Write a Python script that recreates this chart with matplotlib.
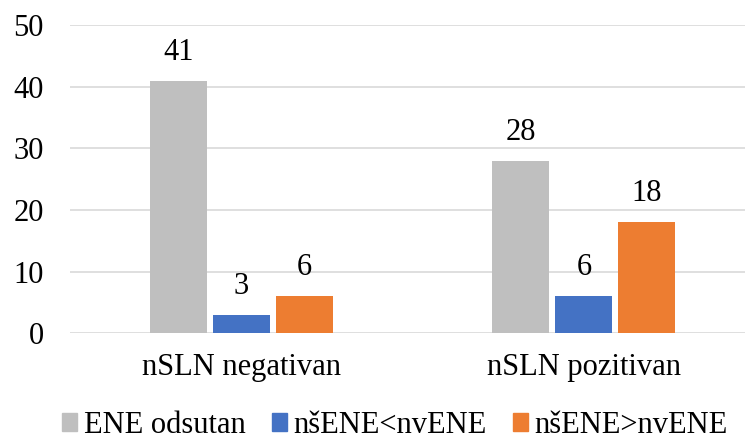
import matplotlib
matplotlib.use("Agg")
import matplotlib.pyplot as plt
from matplotlib.patches import Patch
import numpy as np

plt.rcParams["font.family"] = ["Liberation Serif", "DejaVu Serif"]

categories = ["nSLN negativan", "nSLN pozitivan"]
series = ["ENE odsutan", "nšENE<nvENE", "nšENE>nvENE"]
ene_odsutan = [41, 28]
ens_manji = [3, 6]
ens_veci = [6, 18]
colors = ["#bfbfbf", "#4472c4", "#ed7d31"]

fig = plt.figure(figsize=(7.49, 4.36), dpi=100)
ax = fig.add_axes([0.0935, 0.236, 0.901, 0.706])

x = np.arange(len(categories))
width = 0.166
step = 0.184
for i, (vals, name, col) in enumerate(zip([ene_odsutan, ens_manji, ens_veci], series, colors)):
    pos = x + (i - 1) * step
    bars = ax.bar(pos, vals, width, color=col, label=name, zorder=2)
    for b, v in zip(bars, vals):
        ax.annotate(str(v), (b.get_x() + b.get_width() / 2, v),
                    xytext=(0, 10), textcoords="offset points",
                    ha="center", va="bottom", fontsize=22)

ax.set_ylim(0, 50)
ax.set_yticks(range(0, 51, 10))
ax.set_xlim(-0.5, 1.47)
ax.set_xticks(x)
ax.set_xticklabels(categories)
ax.tick_params(axis="both", length=0, labelsize=22)
ax.tick_params(axis="x", pad=14)
ax.tick_params(axis="y", pad=19)
ax.grid(axis="y", color="#d9d9d9", linewidth=1.2, zorder=0)
for s in ax.spines.values():
    s.set_visible(False)

# one legend per entry so each swatch sits where it should along the bottom
legend_x = [0.083, 0.363, 0.685]
for name, col, lx in zip(series, colors, legend_x):
    fig.legend(handles=[Patch(color=col, label=name)], loc="lower left",
               bbox_to_anchor=(lx, -0.009), frameon=False, fontsize=22,
               handlelength=0.5, handleheight=0.5, handletextpad=0.2,
               borderaxespad=0, borderpad=0)

fig.savefig("out.png", dpi=100)
